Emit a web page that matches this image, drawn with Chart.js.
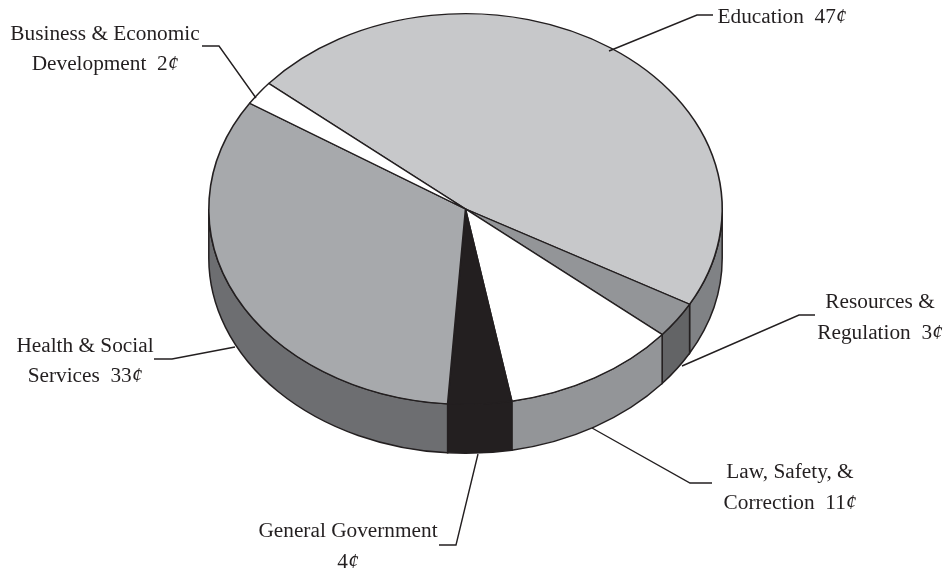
<!DOCTYPE html>
<html>
<head>
<meta charset="utf-8">
<title>Budget dollar</title>
<style>
  html, body { margin: 0; background: #fff; }
  canvas { display: block; }
</style>
<script src="https://cdn.jsdelivr.net/npm/chart.js@4/dist/chart.umd.min.js"></script>
</head>
<body>
<canvas id="chart" width="948" height="573"></canvas>
<script>
const categories = ['Education', 'Resources & Regulation', 'Law, Safety, & Correction', 'General Government', 'Health & Social Services', 'Business & Economic Development']
const cents = [47, 3, 11, 4, 33, 2]
const topColors = ['#c7c8ca', '#939598', '#ffffff', '#231f20', '#a7a9ac', '#ffffff']
const wallColors = ['#808285', '#636466', '#939598', '#231f20', '#6d6e71', '#ffffff']

const INK = '#231f20'
const FLATTEN = 0.761   // ellipse height / width of the top face
const TOP_Y = 209       // centre of the top face
const DEPTH = 49

// text: [string, centre x, baseline y], cent signs are set italic
const labels = [
  ['Business & Economic', 105, 40],
  ['Development  2¢', 105, 70],
  ['Education  47¢', 782, 23],
  ['Resources &', 880, 308],
  ['Regulation  3¢', 880, 339],
  ['Law, Safety, &', 790, 478],
  ['Correction  11¢', 790, 509],
  ['General Government', 348, 537],
  ['4¢', 348, 568],
  ['Health & Social', 85, 352],
  ['Services  33¢', 85, 382],
]

const leaders = [
  [[202, 46], [219, 46], [256, 98]],
  [[609, 51], [697, 15], [713, 15]],
  [[815, 315], [799, 315], [682, 366]],
  [[592, 428], [690, 483], [712, 483]],
  [[478, 454], [456, 545], [439, 545]],
  [[154, 359], [172, 359], [235, 347]],
]

function drawWalls(ctx, arcs) {
  arcs.forEach((arc, i) => {
    const rx = arc.outerRadius
    const ry = rx * FLATTEN
    // only the part of a slice in the lower half of the ellipse shows a wall
    let from = arc.startAngle
    let to = arc.endAngle
    while (from < -Math.PI) { from += Math.PI * 2; to += Math.PI * 2 }
    const ranges = [[from, to], [from - Math.PI * 2, to - Math.PI * 2]]
    ranges.forEach(r => {
      const a0 = Math.max(r[0], 0)
      const a1 = Math.min(r[1], Math.PI)
      if (a1 <= a0) return
      ctx.beginPath()
      ctx.ellipse(arc.x, TOP_Y, rx, ry, 0, a0, a1)
      ctx.ellipse(arc.x, TOP_Y + DEPTH, rx, ry, 0, a1, a0, true)
      ctx.closePath()
      ctx.fillStyle = wallColors[i]
      ctx.fill()
      ctx.lineWidth = 1.5
      ctx.strokeStyle = INK
      ctx.stroke()
    })
  })
}

function drawLabel(ctx, text, x, y) {
  const plain = text.replace('¢', '')
  const hasCent = text.includes('¢')
  const upright = '21.3px "Liberation Serif"'
  const italic = 'italic 21.3px "Liberation Serif"'
  ctx.font = italic
  const centWidth = hasCent ? ctx.measureText('¢').width : 0
  ctx.font = upright
  const width = ctx.measureText(plain).width
  const left = x - (width + centWidth) / 2
  ctx.textAlign = 'left'
  ctx.textBaseline = 'alphabetic'
  ctx.fillStyle = INK
  ctx.fillText(plain, left, y)
  if (hasCent) {
    ctx.font = italic
    ctx.fillText('¢', left + width, y)
  }
}

const flatPie = {
  id: 'flatPie',
  beforeDatasetDraw(chart) {
    const ctx = chart.ctx
    const arcs = chart.getDatasetMeta(0).data
    drawWalls(ctx, arcs)
    // squash the round pie into the top face
    ctx.save()
    ctx.translate(0, TOP_Y)
    ctx.scale(1, FLATTEN)
    ctx.translate(0, -arcs[0].y)
  },
  afterDatasetDraw(chart) {
    chart.ctx.restore()
  },
  afterDraw(chart) {
    const ctx = chart.ctx
    ctx.lineWidth = 1.4
    ctx.strokeStyle = INK
    leaders.forEach(pts => {
      ctx.beginPath()
      pts.forEach((p, i) => i ? ctx.lineTo(p[0], p[1]) : ctx.moveTo(p[0], p[1]))
      ctx.stroke()
    })
    labels.forEach(l => drawLabel(ctx, l[0], l[1], l[2]))
  }
}

new Chart(document.getElementById('chart').getContext('2d'), {
  type: 'pie',
  data: {
    labels: categories,
    datasets: [{
      data: cents,
      backgroundColor: topColors,
      borderColor: INK,
      borderWidth: 1.6,
      borderAlign: 'center',
      borderJoinStyle: 'round',
    }]
  },
  options: {
    responsive: false,
    animation: false,
    rotation: -50,
    layout: { padding: { left: 208, right: 225, top: 29, bottom: 29 } },
    plugins: {
      legend: { display: false },
      tooltip: { enabled: false },
    },
  },
  plugins: [flatPie],
})
</script>
</body>
</html>
